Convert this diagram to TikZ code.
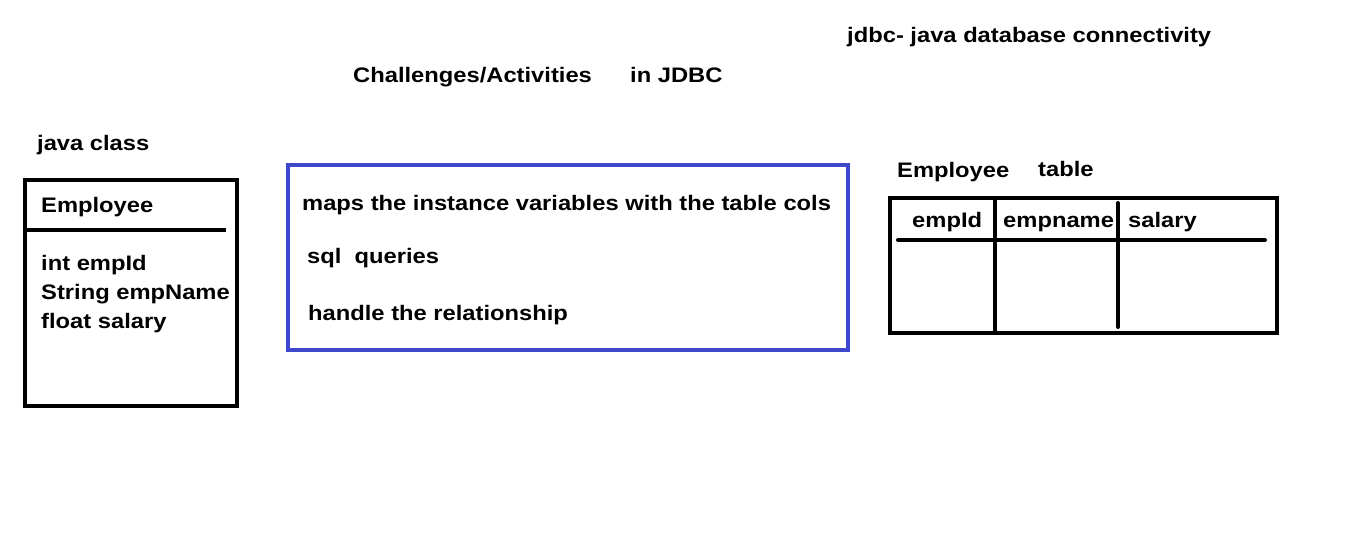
\documentclass[tikz,border=0pt]{standalone}
\usepackage{fontspec}
\setmainfont{Liberation Sans}[FakeStretch=1.13]
\definecolor{paintblue}{RGB}{63,72,204}
\begin{document}
\begin{tikzpicture}[x=1pt,y=-1pt,
  txt/.style={anchor=base west,inner sep=0pt,font=\fontsize{21}{24}\selectfont\bfseries},
  thick4/.style={line width=4pt}]
\useasboundingbox (0,0) rectangle (1349,544);
% titles
\node[txt] (t1) at (847,42) {jdbc- java database connectivity};
\node[txt] (t2) at (353,82) {Challenges/Activities};
\node[txt] (t3) at (630,82) {in JDBC};
% java class
\node[txt] (jc) at (37,150) {java class};
\draw[thick4] (25,180) rectangle (237,406);
\draw[thick4] (25,230) -- (226,230);
\node[txt] (cn) at (41,212) {Employee};
\node[txt] (f1) at (41,270) {int empId};
\node[txt] (f2) at (41,299) {String empName};
\node[txt] (f3) at (41,328) {float salary};
% blue box
\draw[thick4,paintblue] (288,165) rectangle (848,350);
\node[txt] (b1) at (302,210) {maps the instance variables with the table cols};
\node[txt] (b2) at (307,263) {sql\ \ queries};
\node[txt] (b3) at (308,320) {handle the relationship};
% table
\node[txt] (tn) at (897,177) {Employee};
\node[txt] (tt) at (1038,176) {table};
\draw[thick4] (890,198) rectangle (1277,333);
\draw[thick4,line cap=round] (898,240) -- (1265,240);
\draw[thick4] (995,198) -- (995,333);
\draw[thick4,line cap=round] (1118,203) -- (1118,327);
\node[txt] (h1) at (912,227) {empId};
\node[txt] (h2) at (1003,227) {empname};
\node[txt] (h3) at (1128,227) {salary};
\end{tikzpicture}
\end{document}
